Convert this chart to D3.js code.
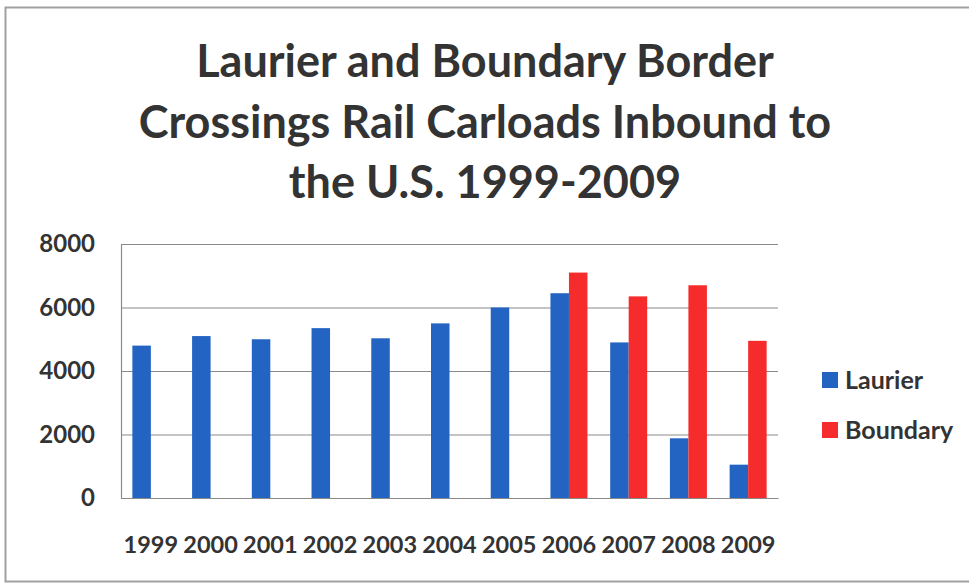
<!DOCTYPE html>
<html><head><meta charset="utf-8">
<script src="https://cdn.jsdelivr.net/npm/d3@7"></script>
<style>
html,body{margin:0;padding:0;background:#fff;}
svg{display:block;}
text{font-family:Lato,"Open Sans",sans-serif;fill:#333;}
</style></head><body>
<svg id="chart" width="969" height="585"></svg>
<script>
const years = ["1999","2000","2001","2002","2003","2004","2005","2006","2007","2008","2009"];
const laurier = [4800,5100,5000,5350,5030,5500,6000,6450,4900,1880,1050];
const boundary = [0,0,0,0,0,0,0,7100,6350,6700,4950];
const seriesNames = ["Laurier","Boundary"];
const seriesColors = ["#2364C3","#F62B2B"];
const yTicks = [0,2000,4000,6000,8000];
const titleLines = ["Laurier and Boundary Border","Crossings Rail Carloads Inbound to","the U.S. 1999-2009"];

const svg = d3.select("#chart");
// outer frame
svg.append("rect").attr("x",5.5).attr("y",7.5).attr("width",975).attr("height",574)
  .attr("fill","none").attr("stroke","#a0a0a0").attr("stroke-width",2);

const m = {left:121, right:778, top:244, bottom:498};
const x0 = d3.scaleBand().domain(years).range([m.left,m.right]).paddingInner(0).paddingOuter(0);
const x1 = d3.scaleBand().domain(seriesNames).range([0,37]).padding(0);
const y = d3.scaleLinear().domain([0,8000]).range([m.bottom,m.top]);

// gridlines
svg.append("g").selectAll("line").data(yTicks).join("line")
  .attr("x1",m.left).attr("x2",m.right)
  .attr("y1",d=>y(d)+0.5).attr("y2",d=>y(d)+0.5)
  .attr("stroke","#8a8a8a").attr("stroke-width",1.2);

// y axis
const yAxis = d3.axisLeft(y).tickValues(yTicks).tickFormat(d3.format("d")).tickSize(0).tickPadding(26);
const gy = svg.append("g").attr("transform",`translate(${m.left},0)`).call(yAxis);
gy.select(".domain").attr("stroke","#8a8a8a").attr("stroke-width",1.2);
gy.selectAll("text").attr("font-size",24).attr("font-weight",700).attr("fill","#333").attr("font-family","Lato, sans-serif");

// x axis
const xAxis = d3.axisBottom(x0).tickSize(0).tickPadding(38);
const gx = svg.append("g").attr("transform",`translate(0,${m.bottom})`).call(xAxis);
gx.select(".domain").attr("stroke","#8a8a8a").attr("stroke-width",1.2);
gx.selectAll("text").attr("font-size",23.5).attr("font-weight",700).attr("fill","#333").attr("font-family","Lato, sans-serif");

// bars
const data = years.map((yr,i)=>({year:yr, vals:[laurier[i], boundary[i]]}));
const groups = svg.append("g").selectAll("g").data(data).join("g")
  .attr("transform",d=>`translate(${x0(d.year)+x0.bandwidth()/2-18.5},0)`);
groups.selectAll("rect").data(d=>d.vals.map((v,j)=>({name:seriesNames[j],v,j}))).join("rect")
  .attr("x",d=>x1(d.name)).attr("width",x1.bandwidth())
  .attr("y",d=>y(d.v)).attr("height",d=>y(0)-y(d.v))
  .attr("fill",d=>seriesColors[d.j]);

// title
svg.append("g").selectAll("text").data(titleLines).join("text")
  .attr("x",485).attr("y",(d,i)=>77+i*60.5)
  .attr("text-anchor","middle").attr("font-size",45).attr("font-weight",700)
  .attr("fill","#333").text(d=>d);

// legend
const lg = svg.append("g").selectAll("g").data(seriesNames).join("g")
  .attr("transform",(d,i)=>`translate(822,${372+i*50})`);
lg.append("rect").attr("width",16).attr("height",16).attr("fill",(d,i)=>seriesColors[i]);
lg.append("text").attr("x",23).attr("y",17).attr("font-size",25).attr("font-weight",700)
  .attr("fill","#333").text(d=>d);
</script>
</body></html>
